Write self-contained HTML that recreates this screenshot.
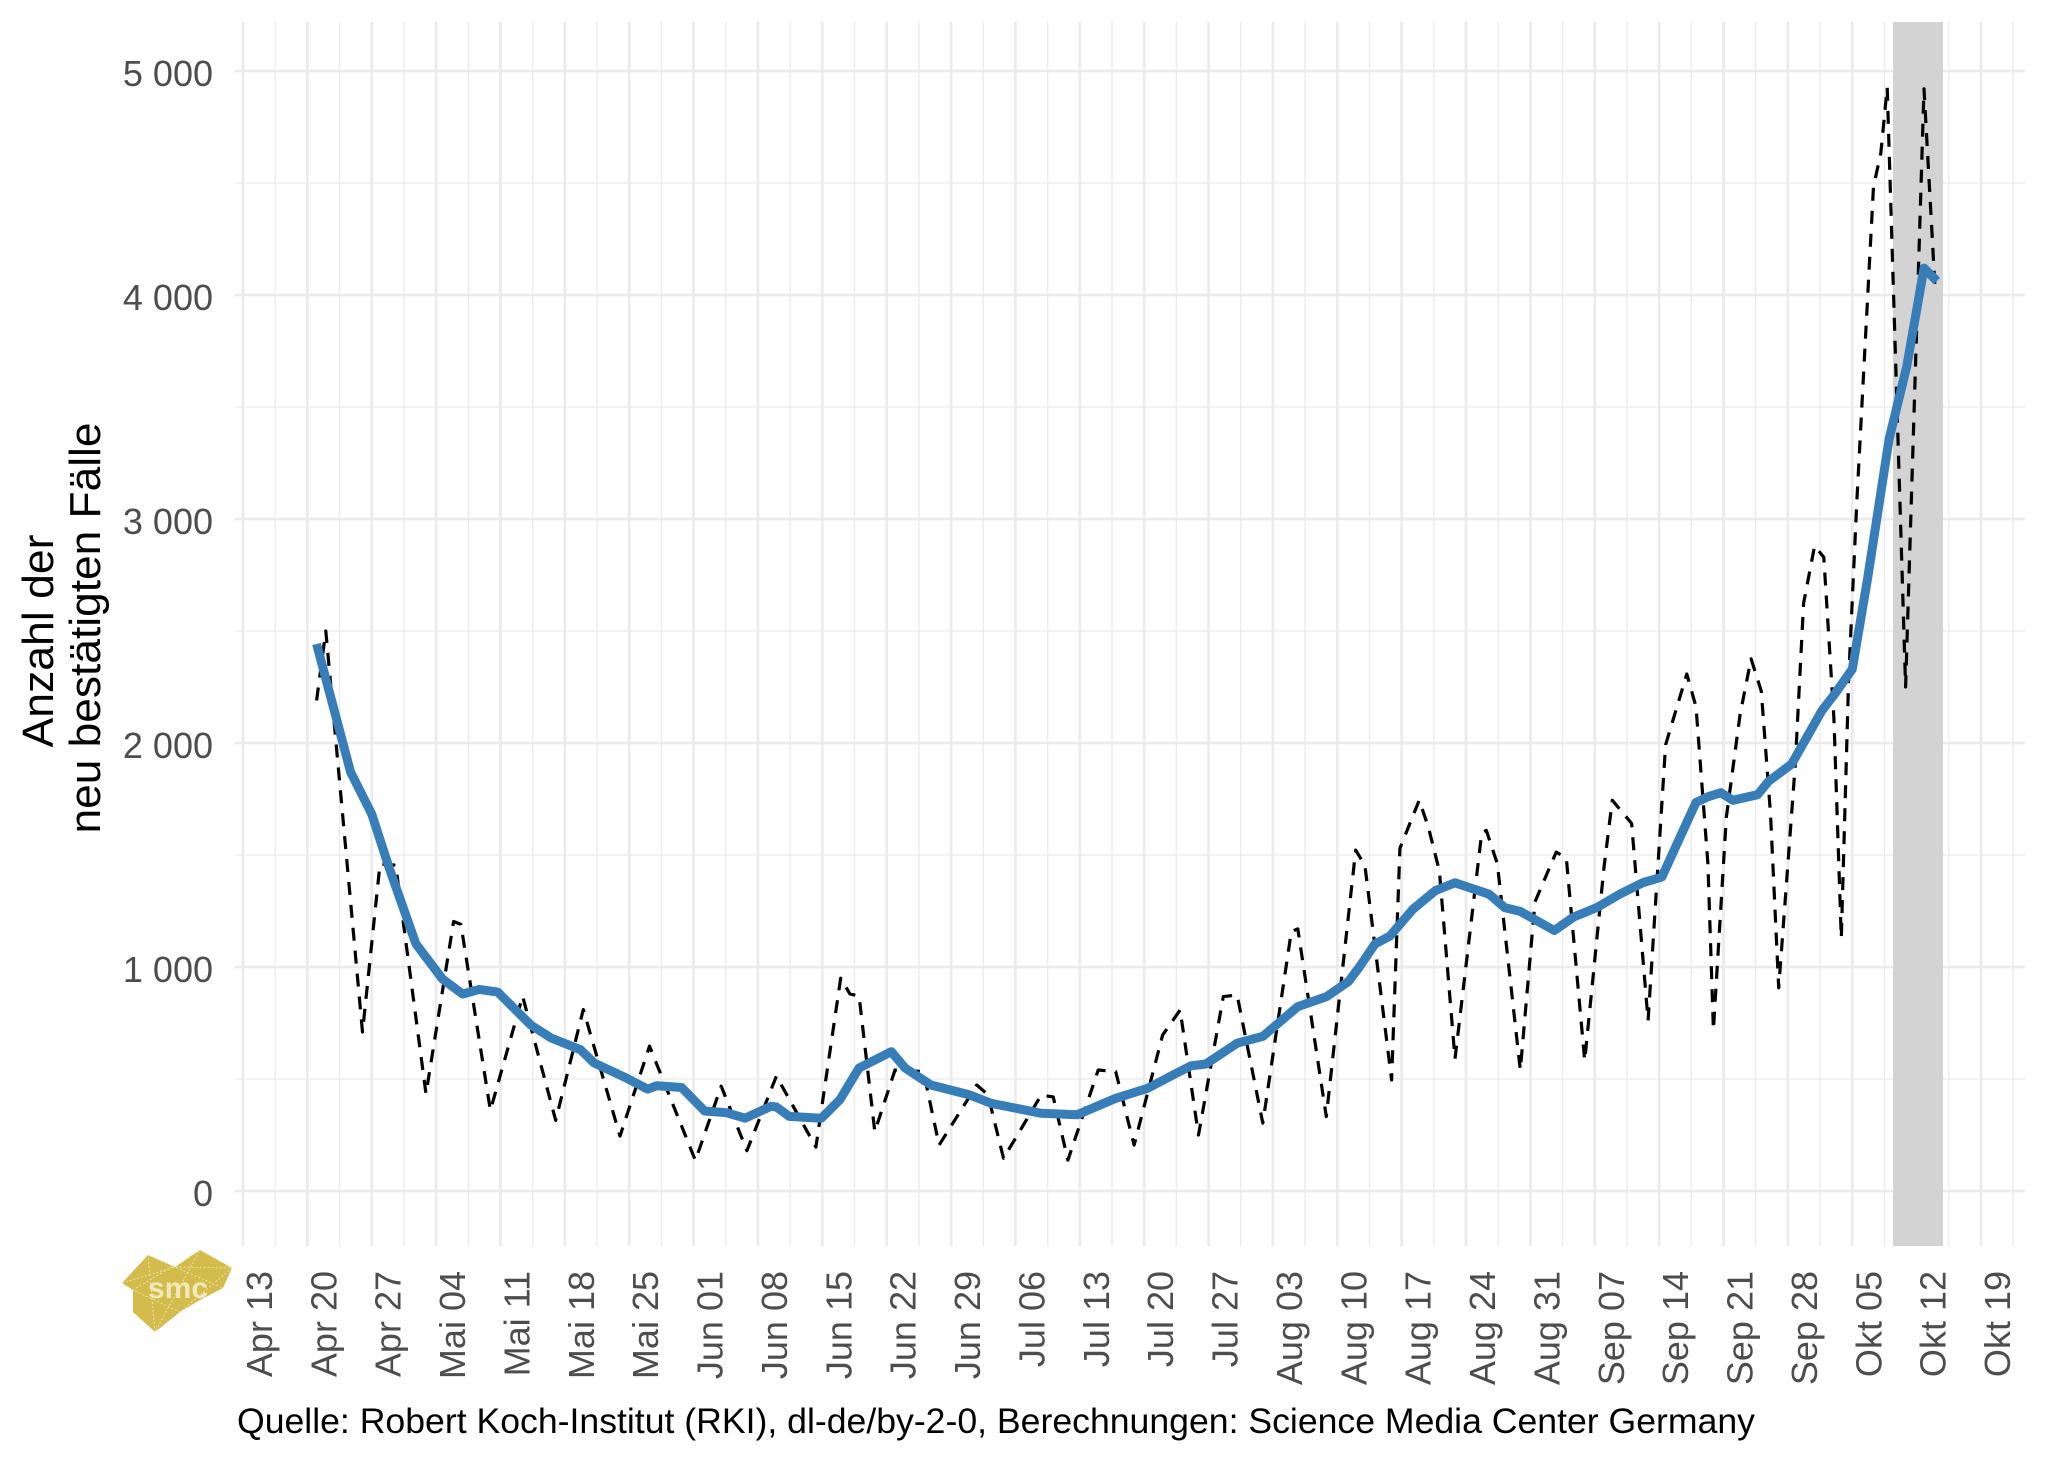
<!DOCTYPE html>
<html><head><meta charset="utf-8">
<style>
html,body{margin:0;padding:0;background:#fff;}
svg{display:block;}
text{font-family:"Liberation Sans",Arial,sans-serif;}
</style></head>
<body>
<svg id="s" width="2048" height="1462" viewBox="0 0 2048 1462" xmlns="http://www.w3.org/2000/svg">
<rect width="2048" height="1462" fill="#fff"/>
<g id="grid"></g>
<rect x="1893" y="22" width="50" height="1224" fill="#d3d3d3"/>
<path id="dash" fill="none" stroke="#000" stroke-width="3.2" stroke-dasharray="13,10" stroke-linejoin="round"/>
<path id="blue" fill="none" stroke="#377eb8" stroke-width="9" stroke-linejoin="round" stroke-linecap="butt"/>
<g font-size="36" fill="#4d4d4d" text-anchor="end">
<text x="213" y="86">5 000</text>
<text x="213" y="310">4 000</text>
<text x="213" y="534">3 000</text>
<text x="213" y="758">2 000</text>
<text x="213" y="982">1 000</text>
<text x="213" y="1206">0</text>
</g>
<g id="xl" font-size="36" fill="#4d4d4d" text-anchor="end">
<text>Apr 13</text><text>Apr 20</text><text>Apr 27</text><text>Mai 04</text><text>Mai 11</text><text>Mai 18</text><text>Mai 25</text><text>Jun 01</text><text>Jun 08</text><text>Jun 15</text><text>Jun 22</text><text>Jun 29</text><text>Jul 06</text><text>Jul 13</text><text>Jul 20</text><text>Jul 27</text><text>Aug 03</text><text>Aug 10</text><text>Aug 17</text><text>Aug 24</text><text>Aug 31</text><text>Sep 07</text><text>Sep 14</text><text>Sep 21</text><text>Sep 28</text><text>Okt 05</text><text>Okt 12</text><text>Okt 19</text>
</g>
<g font-size="44" fill="#000" text-anchor="middle">
<text transform="translate(53,641) rotate(-90)" textLength="213" lengthAdjust="spacingAndGlyphs">Anzahl der</text>
<text transform="translate(100,628) rotate(-90)" textLength="411" lengthAdjust="spacingAndGlyphs">neu bestätigten Fälle</text>
</g>
<text x="237" y="1433" font-size="35" fill="#000" textLength="1518" lengthAdjust="spacingAndGlyphs">Quelle: Robert Koch-Institut (RKI), dl-de/by-2-0, Berechnungen: Science Media Center Germany</text>
<polygon points="122,1283 148,1255 175,1267 200,1250 232,1268 223,1288 200,1300 180,1312 155,1332 133,1312 133,1290" fill="#d4bc4c"/>
<polyline points="122,1283 175,1267 232,1268 180,1312 133,1290 200,1250 155,1332 148,1255 223,1288" fill="none" stroke="#f3e9b8" stroke-width="0.8" stroke-dasharray="2,2"/>
<text x="178" y="1298" font-size="30" font-weight="bold" fill="#f7f0d0" text-anchor="middle" opacity="0.85">smc</text>
</svg>
<script>
(function(){
var X=function(d){return 243+9.196*d;}, Y=function(v){return 1191-0.224*v;};
var g=document.getElementById('grid'), ns='http://www.w3.org/2000/svg', h='';
for(var k=0;k<=11;k++){var y=1191-112*k;h+='<line x1="235" x2="2025" y1="'+y+'" y2="'+y+'" stroke="#ebebeb" stroke-width="'+(k%2?1.3:2.7)+'"/>';}
for(var k=0;k<=55;k++){var x=243+32.185*k;h+='<line y1="22" y2="1246" x1="'+x+'" x2="'+x+'" stroke="#ebebeb" stroke-width="'+(k%2?1.3:2.7)+'"/>';}
g.innerHTML=h;
var dash=[8,2190,9,2500,13,710,14.9,1460,16.6,1455,19.9,434,22.9,1203,23.7,1190,26.9,360,30.4,870,34,315,37,810,41,245,44.2,647,49.2,136,52,468,54.8,180,58,513,62.3,196,65,950,66,880,67,870,68.7,265,70.9,540,74,533,75.7,205,79.8,473,81,430,82.7,146,86.8,428,88.1,420,89.7,138,93,540,94.9,533,96.9,205,100,696,101.9,808,103.9,250,106.6,868,108.1,875,110.9,303,114,1158,114.7,1170,117.8,332,121,1522,122,1453,124.9,496,125.8,1530,127.9,1744,128.9,1624,130.1,1428,131.8,590,134.7,1598,135.2,1610,136.4,1462,138.9,540,140.5,1291,142.8,1513,143.9,1487,145.9,582,148,1445,148.9,1744,151,1641,152.8,761,154.7,1992,157,2308,158,2162,159.3,1462,159.9,719,161.3,1667,162.8,2128,164,2376,165.1,2231,166.1,1684,167,907,168.8,1906,169.7,2624,170.9,2880,171.9,2829,173,2111,173.8,1129,174.6,2282,175.5,3085,177.3,4485,178.1,4632,178.8,4927,180.8,2250,182.8,4920,184,4025];
var blue=[8,2442,11.7,1870,14,1683,15.9,1442,18.8,1103,21.7,946,23.9,879,25.7,900,27.7,888,31.3,741,33.5,683,36.7,631,38.2,571,41.7,504,44,455,45,470,47.7,462,50.2,357,52.5,350,54.6,325,57.4,378,58,375,59.4,333,62.9,325,64.9,407,67,549,70.5,622,72,549,74.8,473,79,429,81.4,391,86.8,347,90.7,340,94.9,414,98.4,459,101.5,526,103.1,559,104.7,567,108.1,660,110.9,690,114.7,823,117.8,867,120.2,935,121.4,1000,123.1,1103,124.7,1137,127.2,1257,129.7,1342,131.8,1376,135.5,1325,137.2,1265,138.9,1248,142.6,1163,144.7,1223,147.2,1265,149.7,1325,152.2,1376,154.3,1402,155.9,1547,158,1735,159.3,1760,160.7,1778,162,1744,164.7,1769,165.9,1829,168.4,1906,171.7,2145,173,2214,175,2330,176.7,2743,179,3357,180.9,3678,182.8,4120,184.2,4062];
function p(a){var s='';for(var i=0;i<a.length;i+=2){s+=(i?'L':'M')+X(a[i]).toFixed(1)+','+Y(a[i+1]).toFixed(1);}return s;}
document.getElementById('dash').setAttribute('d',p(dash));
document.getElementById('blue').setAttribute('d',p(blue));
var t=document.getElementById('xl').getElementsByTagName('text');
for(var k=0;k<t.length;k++){var x=243+64.37*k+29;t[k].setAttribute('transform','translate('+x+',1271) rotate(-90)');}
})();
</script>
</body></html>
